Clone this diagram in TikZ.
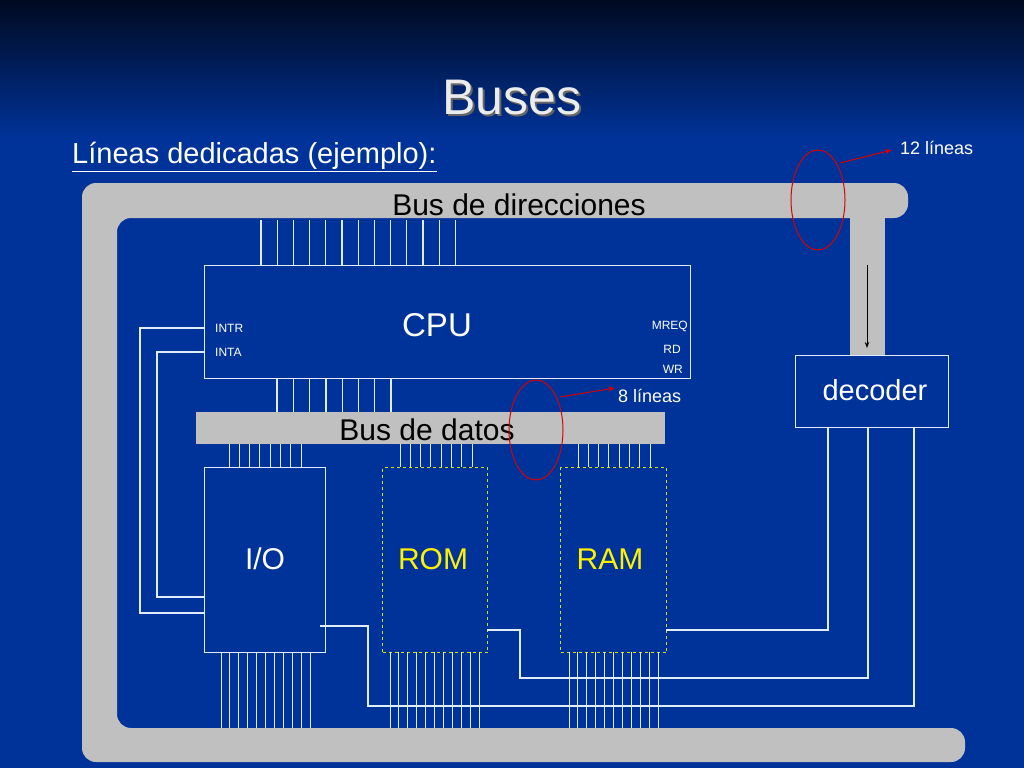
\documentclass[tikz,border=0pt]{standalone}
\usepackage{fontspec}
\setmainfont{Liberation Sans}
\usetikzlibrary{arrows.meta}
\definecolor{bg}{HTML}{00339A}
\definecolor{bgtop}{HTML}{000A20}
\definecolor{grayb}{HTML}{C0C0C0}
\definecolor{wire}{HTML}{E0ECFF}
\begin{document}
\begin{tikzpicture}[x=1pt,y=-1pt,
  wire/.style={draw=wire,line width=1.3pt},
  box/.style={draw=wire,line width=1.3pt,fill=none},
  mem/.style={draw=yellow!80!green,dashed,line width=1pt},
  lbl/.style={font=\fontsize{30}{30}\selectfont,inner sep=0pt},
  sm/.style={font=\fontsize{12}{12}\selectfont,text=white,inner sep=0pt},
  red/.style={draw=red!85!black,line width=1pt}]
\useasboundingbox (0,0) rectangle (1024,768);
\fill[bg] (0,0) rectangle (1024,768);
\shade[top color=bgtop,bottom color=bg] (0,0) rectangle (1024,140);
% grey frame
\fill[grayb,rounded corners=14pt] (82,183) -- (908,183) -- (908,218) -- (117,218) -- (117,728) -- (965,728) -- (965,762) -- (82,762) -- cycle;
\fill[grayb] (850,215) rectangle (885,355);
\draw[-{Stealth[length=6pt]},line width=1pt] (867,265) -- (867,348);
% title
\node[font=\fontsize{50}{50}\selectfont,text=black!60] at (514,100) {Buses};
\node[font=\fontsize{50}{50}\selectfont,text=gray!15] (title) at (512,98) {Buses};
\node[anchor=west,font=\fontsize{29}{29}\selectfont,text=white,inner sep=0pt] (sub) at (72,157) {\underline{Líneas dedicadas (ejemplo):}};
% bus labels
\node[lbl] (bdir) at (519,205) {Bus de direcciones};
\fill[grayb] (196,412) rectangle (665,444);
\node[lbl] (bdat) at (427,430) {Bus de datos};
% address lines
\foreach \i in {0,...,12} \draw[wire] (261+16.2*\i,220) -- (261+16.2*\i,265);
% data lines cpu
\foreach \i in {0,...,7} \draw[wire] (277+16.3*\i,378) -- (277+16.3*\i,412);
% CPU
\node[box,minimum width=486pt,minimum height=113pt,anchor=north west,inner sep=0pt] (cpu) at (204,265) {};
\node[font=\fontsize{33}{33}\selectfont,text=white] (cput) at (437,325) {CPU};
\node[sm,anchor=west] (intr) at (215,328) {INTR};
\node[sm,anchor=west] (inta) at (215,352) {INTA};
\node[sm,anchor=east] (mreq) at (688,326) {MREQ};
\node[sm,anchor=east] (rd) at (681,349) {RD};
\node[sm,anchor=east] (wr) at (683,369) {WR};
% IO, ROM, RAM
\node[box,minimum width=121pt,minimum height=185pt,anchor=north west,inner sep=0pt] (io) at (204,467) {};
\node[mem,minimum width=105pt,minimum height=185pt,anchor=north west,inner sep=0pt] (rom) at (382,467) {};
\node[mem,minimum width=106pt,minimum height=185pt,anchor=north west,inner sep=0pt] (ram) at (560,467) {};
\node[font=\fontsize{30}{30}\selectfont,text=white] at (265,559) {I/O};
\node[font=\fontsize{30}{30}\selectfont,text=yellow] at (433,559) {ROM};
\node[font=\fontsize{30}{30}\selectfont,text=yellow] at (610,559) {RAM};
\foreach \x in {229,400,578} \foreach \i in {0,...,7} \draw[wire,line width=1pt] (\x+10.3*\i,444) -- (\x+10.3*\i,467);
\foreach \x in {221,390,569} \foreach \i in {0,...,10} \draw[wire,line width=1pt] (\x+8.9*\i,652) -- (\x+8.9*\i,728);
% interrupt wires
\draw[wire] (204,328) -- (140,328) -- (140,613) -- (204,613);
\draw[wire] (204,352) -- (157,352) -- (157,597) -- (204,597);
% decoder
\node[box,minimum width=153pt,minimum height=72pt,anchor=north west,inner sep=0pt] (dec) at (795,355) {};
\node[font=\fontsize{29}{29}\selectfont,text=white] at (875,390) {decoder};
\draw[wire] (828,427) -- (828,630) -- (666,630);
\draw[wire] (868,427) -- (868,678) -- (520,678) -- (520,630) -- (487,630);
\draw[wire] (914,427) -- (914,706) -- (368,706) -- (368,626) -- (320,626);
% red annotations
\draw[red] (818,200) ellipse (27 and 50);
\draw[red,-{Stealth[length=7pt]}] (840,163) -- (892,150);
\node[anchor=west,font=\fontsize{18}{18}\selectfont,text=white,inner sep=0pt] (l12) at (900,148) {12 líneas};
\draw[red] (536,430) ellipse (27 and 50);
\draw[red,-{Stealth[length=7pt]}] (560,397) -- (615,388);
\node[anchor=west,font=\fontsize{18}{18}\selectfont,text=white,inner sep=0pt] (l8) at (618,396) {8 líneas};
\end{tikzpicture}
\end{document}
